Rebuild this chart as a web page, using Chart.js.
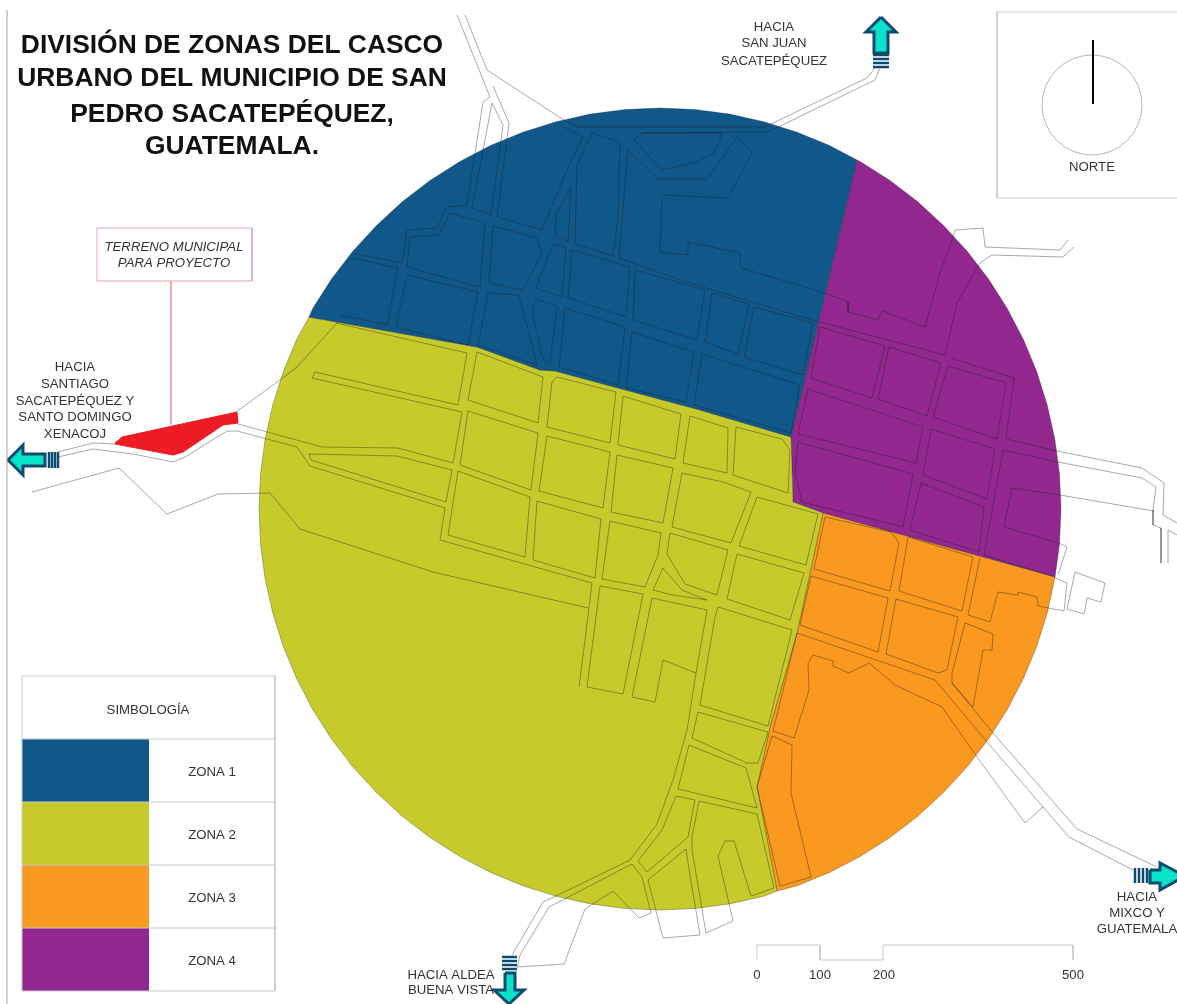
<!DOCTYPE html>
<html>
<head>
<meta charset="utf-8">
<title>División de zonas</title>
<script src="https://cdn.jsdelivr.net/npm/chart.js@4"></script>
<style>
  html, body { margin: 0; padding: 0; background: #fff; }
  canvas { display: block; }
</style>
</head>
<body>
<canvas id="map" width="1177" height="1004"></canvas>
<script>
// Zones in map units
const zone1 = [[309,317],[312.7,308.5],[331.5,279],[352.8,251.2],[376.5,225.5],[402.2,201.8],[430,180.5],[459.5,161.7],[490.5,145.6],[522.8,132.2],[556.2,121.7],[590.4,114.1],[625.1,109.5],[660,108],[694.9,109.5],[729.6,114.1],[763.8,121.7],[797.2,132.2],[829.5,145.6],[857,160],[791,437],[700,410],[555,371],[540,370],[477,347],[309,317]];
const zone2 = [[309,317],[477,347],[540,370],[555,371],[700,410],[791,437],[793,502],[823,513],[797,633],[770,727],[757,787],[777,891],[763.8,896.3],[729.6,903.9],[694.9,908.5],[660,910],[625.1,908.5],[590.4,903.9],[556.2,896.3],[522.8,885.8],[490.5,872.4],[459.5,856.3],[430,837.5],[402.2,816.2],[376.5,792.5],[352.8,766.8],[331.5,739],[312.7,709.5],[296.6,678.5],[283.2,646.2],[272.7,612.8],[265.1,578.6],[260.5,543.9],[259,509],[260.5,474.1],[265.1,439.4],[272.7,405.2],[283.2,371.8],[296.6,339.5],[309,317]];
const zone3 = [[823,513],[1055,577],[1047.3,612.8],[1036.8,646.2],[1023.4,678.5],[1007.3,709.5],[988.5,739],[967.2,766.8],[943.5,792.5],[917.8,816.2],[890,837.5],[860.5,856.3],[829.5,872.4],[797.2,885.8],[777,891],[757,787],[770,727],[797,633],[823,513]];
const zone4 = [[857,160],[860.5,161.7],[890,180.5],[917.8,201.8],[943.5,225.5],[967.2,251.2],[988.5,279],[1007.3,308.5],[1023.4,339.5],[1036.8,371.8],[1047.3,405.2],[1054.9,439.4],[1059.5,474.1],[1061,509],[1059.5,543.9],[1055,577],[823,513],[793,502],[791,437],[857,160]];
const zoneNames = ["ZONA 1", "ZONA 2", "ZONA 3", "ZONA 4"];
const terreno = [[115,443],[122,437],[237,412],[238,423],[223,425],[183,452],[173,455],[115,444]];

// Streets and blocks
const blueBlocks = [
  [[483,102],[467,205],[447,207],[437,228],[407,230],[402,263],[353,253]],
  [[492,103],[472,208],[491,215],[503,125],[492,103]],
  [[493,86],[509,123],[497,217],[542,230],[567,170],[583,137],[560,125]],
  [[634,140],[642,133],[722,133],[715,152],[697,162],[662,170],[634,140]],
  [[592,133],[620,142],[618,217],[613,256],[575,244],[577,165],[592,133]],
  [[571,188],[568,242],[555,235],[556,213],[571,188]],
  [[628,150],[658,179],[707,179],[737,137],[752,153],[728,198],[662,195],[660,252],[688,255],[688,242],[740,253],[741,268],[825,293],[848,302],[848,312],[878,320],[882,311],[925,327],[940,273],[953,237],[955,230],[983,228],[985,247],[1060,250],[1068,240]],
  [[628,150],[619,258],[680,280],[812,320],[945,355],[957,303],[980,263],[992,255],[1063,257],[1074,247]],
  [[450,213],[485,223],[480,287],[407,267],[410,237],[439,235],[450,213]],
  [[493,226],[537,238],[542,253],[523,290],[489,283],[493,226]],
  [[553,244],[566,247],[562,297],[536,288],[553,244]],
  [[572,250],[630,267],[626,317],[568,298],[572,250]],
  [[635,270],[705,290],[697,340],[633,320],[635,270]],
  [[712,293],[749,304],[738,354],[705,342],[712,293]],
  [[754,307],[813,323],[803,375],[744,357],[754,307]],
  [[407,275],[478,292],[468,345],[396,327],[407,275]],
  [[353,258],[398,268],[387,325],[340,315]],
  [[488,293],[519,295],[537,365],[478,345],[488,293]],
  [[535,299],[557,306],[550,363],[543,359],[532,312],[535,299]],
  [[565,308],[625,327],[618,385],[559,367],[565,308]],
  [[632,332],[694,352],[686,402],[626,388],[632,332]],
  [[702,354],[800,385],[791,433],[694,405],[702,354]]
];
const purpleBlocks = [
  [[820,327],[885,346],[872,398],[811,378],[820,327]],
  [[889,347],[941,363],[927,416],[878,399],[889,347]],
  [[948,366],[1006,383],[997,439],[933,417],[948,366]],
  [[808,389],[923,427],[916,463],[798,434],[808,389]],
  [[931,429],[995,449],[987,499],[923,475],[931,429]],
  [[798,442],[913,474],[903,527],[802,502],[795,473],[798,442]],
  [[921,483],[984,507],[979,552],[910,530],[921,483]],
  [[1003,450],[984,555],[1055,577]],
  [[1154,511],[1060,495],[1012,488],[1004,527],[1059,543],[1067,547],[1058,575]]
];
const orangeBlocks = [
  [[825,517],[891,532],[899,543],[890,591],[814,569],[825,517]],
  [[908,537],[973,557],[962,611],[899,591],[908,537]],
  [[811,576],[888,598],[878,652],[800,625],[811,576]],
  [[896,599],[958,617],[947,670],[938,673],[886,654],[896,599]],
  [[965,623],[993,634],[992,650],[983,650],[973,707],[952,683],[952,673],[965,623]],
  [[980,558],[968,615],[990,622],[998,592],[1017,595],[1018,592],[1037,597],[1038,606],[1064,611],[1067,583],[1055,578]],
  [[1043,807],[1025,823],[977,757],[942,707],[895,685],[869,663],[849,673],[833,666],[833,661],[813,655],[808,663],[809,690],[794,738],[773,731],[797,633],[935,680],[987,742],[1043,807],[1069,837],[1133,870]],
  [[952,683],[993,733],[1077,829],[1157,867]],
  [[772,736],[792,745],[791,793],[811,877],[780,886],[757,787],[772,736]]
];
const yellowBlocks = [
  [[336,323],[467,353],[458,405],[315,372],[312,378],[462,412],[453,463],[398,448],[322,447],[238,424]],
  [[309,454],[397,456],[452,470],[446,502],[311,460],[309,454]],
  [[477,352],[543,377],[538,423],[468,400],[477,352]],
  [[557,377],[616,392],[610,443],[547,427],[552,382],[557,377]],
  [[623,396],[681,414],[675,459],[618,445],[623,396]],
  [[690,416],[728,428],[727,473],[683,463],[690,416]],
  [[736,427],[782,439],[790,450],[788,493],[733,475],[736,427]],
  [[468,411],[538,433],[531,490],[460,465],[468,411]],
  [[547,436],[610,452],[603,508],[539,491],[547,436]],
  [[617,455],[673,468],[663,523],[611,512],[617,455]],
  [[682,473],[723,482],[751,492],[731,543],[672,527],[682,473]],
  [[757,497],[818,514],[806,565],[739,546],[757,497]],
  [[458,471],[530,497],[525,557],[448,535],[458,471]],
  [[537,501],[601,519],[595,578],[533,560],[537,501]],
  [[610,521],[661,533],[658,555],[645,587],[602,579],[610,521]],
  [[670,533],[728,550],[717,595],[685,584],[667,554],[670,533]],
  [[663,568],[682,590],[707,600],[672,595],[653,590],[663,568]],
  [[737,554],[804,573],[790,620],[727,599],[737,554]],
  [[600,586],[643,594],[623,694],[587,687],[600,586]],
  [[652,598],[707,610],[696,673],[663,660],[655,702],[632,697],[652,598]],
  [[718,607],[792,630],[768,726],[700,705],[715,617],[718,607]],
  [[698,712],[768,732],[758,763],[747,763],[692,738],[698,712]],
  [[689,745],[746,768],[757,808],[678,789],[689,745]],
  [[676,796],[695,800],[688,837],[647,872],[638,861],[662,830],[676,796]],
  [[699,801],[757,814],[774,888],[751,896],[734,841],[725,841],[718,856],[733,921],[706,933],[692,850],[692,837],[699,801]],
  [[686,849],[688,863],[700,935],[663,938],[648,880],[686,849]]
];
const outerRoads = [
  [[457,15],[490,97],[483,102]],
  [[465,15],[487,70],[567,122],[577,127],[765,127],[773,123],[867,78],[875,68]],
  [[642,133],[763,132],[770,131],[875,80],[880,68]],
  [[1014,378],[1006,439],[1057,451],[1142,468],[1164,483],[1163,515],[1177,523]],
  [[951,358],[1014,378]],
  [[1003,450],[1058,462],[1142,478],[1156,487],[1153,510],[1153,525],[1161,528],[1161,563]],
  [[1168,563],[1168,530],[1177,535]],
  [[1075,572],[1105,583],[1101,602],[1087,598],[1084,614],[1067,609],[1075,572]],
  [[58,452],[93,443],[115,444]],
  [[58,457],[93,449],[133,454],[173,462],[185,457],[227,431],[237,431],[297,447],[310,466],[445,508],[440,540],[592,583],[585,640],[579,687]],
  [[236,412],[280,380],[297,367],[337,323]],
  [[32,492],[119,468],[167,514],[218,494],[270,493],[300,529],[433,572],[588,608]],
  [[696,673],[687,730],[673,780],[657,824],[630,860],[558,895],[543,902],[512,955]],
  [[632,864],[549,907],[520,955],[517,967],[564,964],[585,909],[613,891],[639,918],[651,913],[642,877],[632,864]]
];

// Sheet furniture
const sheetLines = [
  [[7,10],[7,1004]],
  [[1177,12],[997,12],[997,198],[1177,198]],
  [[22,676],[275,676],[275,991],[22,991],[22,676]],
  [[22,739],[275,739]],
  [[22,802],[275,802]],
  [[22,865],[275,865]],
  [[22,928],[275,928]],
  [[757,960],[757,945],[820,945],[820,960],[883,960],[883,945],[1073,945],[1073,960]]
];
const calloutLines = [
  [[97,228],[252,228],[252,281],[97,281],[97,228]],
  [[171,281],[171,425]]
];
const northNeedle = [[1093,40],[1093,104]];
const northDial = [{ x: 1092, y: 105, r: 50 }];
const legendSwatches = [
  [[22,739],[149,739],[149,802],[22,802],[22,739]],
  [[22,802],[149,802],[149,865],[22,865],[22,802]],
  [[22,865],[149,865],[149,928],[22,928],[22,865]],
  [[22,928],[149,928],[149,991],[22,991],[22,928]]
];
const arrows = [
  [[8,460],[23,445],[23,454],[45,454],[45,466],[23,466],[23,475],[8,460]],
  [[881,17],[866,32],[874,32],[874,53],[888,53],[888,32],[896,32],[881,17]],
  [[1150,870],[1160,870],[1160,863],[1185,876],[1160,890],[1160,883],[1150,883],[1150,870]],
  [[505,973],[515,973],[515,990],[524,990],[509,1004],[494,990],[505,990],[505,973]]
];
const arrowBars = [
  [[49,452],[49,468]], [[52,452],[52,468]], [[55,452],[55,468]], [[58,452],[58,468]],
  [[873,55],[889,55]], [[873,59],[889,59]], [[873,63],[889,63]], [[873,67],[889,67]],
  [[1135,868],[1135,883]], [[1139,868],[1139,883]], [[1143,868],[1143,883]], [[1147,868],[1147,883]],
  [[502,957],[517,957]], [[502,961],[517,961]], [[502,965],[517,965]], [[502,969],[517,969]]
];

// Text
const titleLines = [
  ["DIVISIÓN DE ZONAS DEL CASCO", 232, 46],
  ["URBANO DEL MUNICIPIO DE SAN", 232, 79],
  ["PEDRO SACATEPÉQUEZ,", 232, 115],
  ["GUATEMALA.", 232, 147]
];
const noteLines = [
  ["HACIA", 774, 27], ["SAN JUAN", 774, 43], ["SACATEPÉQUEZ", 774, 61],
  ["NORTE", 1092, 167],
  ["HACIA", 75, 367], ["SANTIAGO", 75, 384], ["SACATEPÉQUEZ Y", 75, 401], ["SANTO DOMINGO", 75, 417], ["XENACOJ", 75, 434],
  ["SIMBOLOGÍA", 148, 710],
  [zoneNames[0], 212, 772], [zoneNames[1], 212, 835], [zoneNames[2], 212, 898], [zoneNames[3], 212, 961],
  ["HACIA", 1137, 897], ["MIXCO Y", 1137, 913], ["GUATEMALA", 1137, 929],
  ["HACIA ALDEA", 451, 975], ["BUENA VISTA", 451, 990],
  ["0", 757, 975], ["100", 820, 975], ["200", 884, 975], ["500", 1073, 975]
];
const italicLines = [
  ["TERRENO MUNICIPAL", 174, 247],
  ["PARA PROYECTO", 174, 263]
];

const toPoints = (path) => path.map(([x, y]) => ({ x, y }));

function lineSet(path, color, width) {
  return { data: toPoints(path), showLine: true, fill: false, borderColor: color, borderWidth: width, pointRadius: 0, tension: 0, order: 1 };
}

function shapeSet(path, color, edge, order, width = 1) {
  return { data: toPoints(path), showLine: true, fill: "shape", backgroundColor: color, borderColor: edge, borderWidth: width, pointRadius: 0, tension: 0, order: order };
}

const ZONE_COLORS = ["#10588a", "#c6cb2b", "#f9991f", "#91278f"];
const STREET = "rgba(30,30,30,0.38)";
const ZONE_EDGE = "rgba(30,30,30,0.3)";
const FRAME = "#c9c9c9";
const NAVY = "#0d4a70";

const streets = [...blueBlocks, ...purpleBlocks, ...orangeBlocks, ...yellowBlocks, ...outerRoads];

const datasets = [
  ...arrowBars.map((p) => lineSet(p, NAVY, 2.5)),
  ...arrows.map((p) => shapeSet(p, "#06e3c9", NAVY, 1, 3)),
  lineSet(northNeedle, "#000", 2),
  { type: "bubble", data: northDial, backgroundColor: "rgba(0,0,0,0)", borderColor: "#b5b5b5", borderWidth: 1, order: 1 },
  ...legendSwatches.map((p, i) => shapeSet(p, ZONE_COLORS[i], "rgba(0,0,0,0)", 2)),
  ...sheetLines.map((p) => lineSet(p, FRAME, 1)),
  ...calloutLines.map((p) => lineSet(p, "#e8a3ab", 1)),
  shapeSet(terreno, "#ed1c24", "#ed1c24", 1),
  ...streets.map((p) => lineSet(p, STREET, 1)),
  shapeSet(zone1, ZONE_COLORS[0], ZONE_EDGE, 5),
  shapeSet(zone2, ZONE_COLORS[1], ZONE_EDGE, 5),
  shapeSet(zone3, ZONE_COLORS[2], ZONE_EDGE, 5),
  shapeSet(zone4, ZONE_COLORS[3], ZONE_EDGE, 5)
];

const mapText = {
  id: "mapText",
  afterDraw(chart) {
    const { ctx, scales } = chart;
    const put = (rows, font, color) => {
      ctx.font = font;
      ctx.fillStyle = color;
      ctx.textAlign = "center";
      ctx.textBaseline = "middle";
      rows.forEach(([text, x, y]) => ctx.fillText(text, scales.x.getPixelForValue(x), scales.y.getPixelForValue(y)));
    };
    ctx.save();
    put(titleLines, 'bold 26.4px "Liberation Sans"', "#111");
    put(noteLines, '13.2px "Liberation Sans"', "#333");
    put(italicLines, 'italic 13.2px "Liberation Sans"', "#333");
    ctx.restore();
  }
};

new Chart(document.getElementById("map"), {
  type: "scatter",
  data: { datasets },
  plugins: [mapText],
  options: {
    responsive: false,
    animation: false,
    events: [],
    layout: { padding: 0, autoPadding: false },
    plugins: { legend: { display: false }, tooltip: { enabled: false } },
    scales: {
      x: { type: "linear", min: 0, max: 1177, display: false },
      y: { type: "linear", min: 0, max: 1004, reverse: true, display: false }
    }
  }
});
</script>
</body>
</html>
